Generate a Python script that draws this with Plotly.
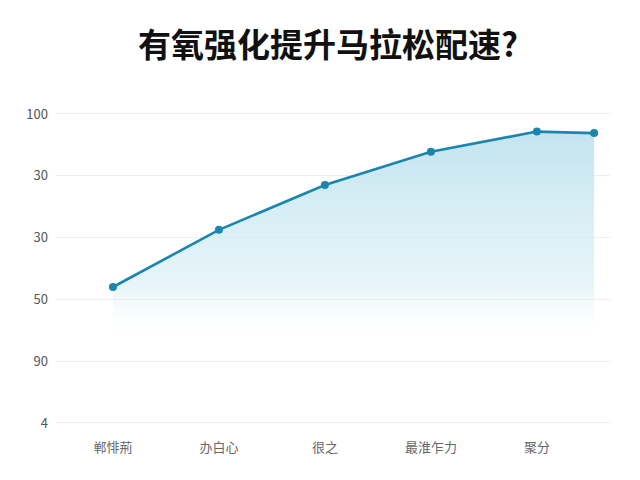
import plotly.graph_objects as go

# x positions of the stages (last point sits past the last label)
stage_x = [0, 1, 2, 3, 4, 4.54]
pace_score = [44.0, 62.5, 77.0, 87.8, 94.3, 93.8]

x_tick_vals = [0, 1, 2, 3, 4]
x_tick_text = ["郸悱荊", "办白心", "很之", "最淮乍力", "聚分"]

y_tick_vals = [0, 20, 40, 60, 80, 100]
y_tick_text = ["4", "90", "50", "30", "30", "100"]

title_text = "有氧强化提升马拉松配速?"

fig = go.Figure()
fig.add_trace(go.Scatter(
    x=stage_x, y=pace_score,
    mode="lines+markers",
    line=dict(color="#1a86ae", width=2.6),
    marker=dict(size=8, color="#1a86ae"),
    fill="tozeroy",
    fillgradient=dict(
        type="vertical",
        start=27, stop=96,
        colorscale=[[0, "rgba(255,255,255,0)"], [0.25, "rgba(215,238,245,0.6)"], [1, "rgba(190,226,238,0.95)"]],
    ),
    showlegend=False,
))

# page body has an 8px margin, so everything is offset by -8 here
fig.update_layout(
    width=640, height=480,
    paper_bgcolor="white", plot_bgcolor="white",
    margin=dict(l=47, r=38, t=97, b=58),
    title=dict(text=title_text, x=0.5, xanchor="center", y=0.923, yanchor="middle",
               font=dict(family="Noto Sans CJK SC", size=33, color="#111111", weight="bold")),
    font=dict(family="Noto Sans CJK SC", color="#555555"),
)
fig.update_xaxes(
    range=[-0.547, 4.69], tickvals=x_tick_vals, ticktext=x_tick_text,
    showgrid=False, zeroline=False, showline=False,
    tickfont=dict(size=13, color="#666666"), ticks="", ticklabelstandoff=8,
)
fig.update_yaxes(
    range=[-2.27, 102.9], tickvals=y_tick_vals, ticktext=y_tick_text,
    showgrid=True, gridcolor="#eeeeee", gridwidth=1, zeroline=False, showline=False,
    tickfont=dict(size=13, color="#555555"), ticks="", ticklabelstandoff=6,
)

fig.write_html("out.html")
